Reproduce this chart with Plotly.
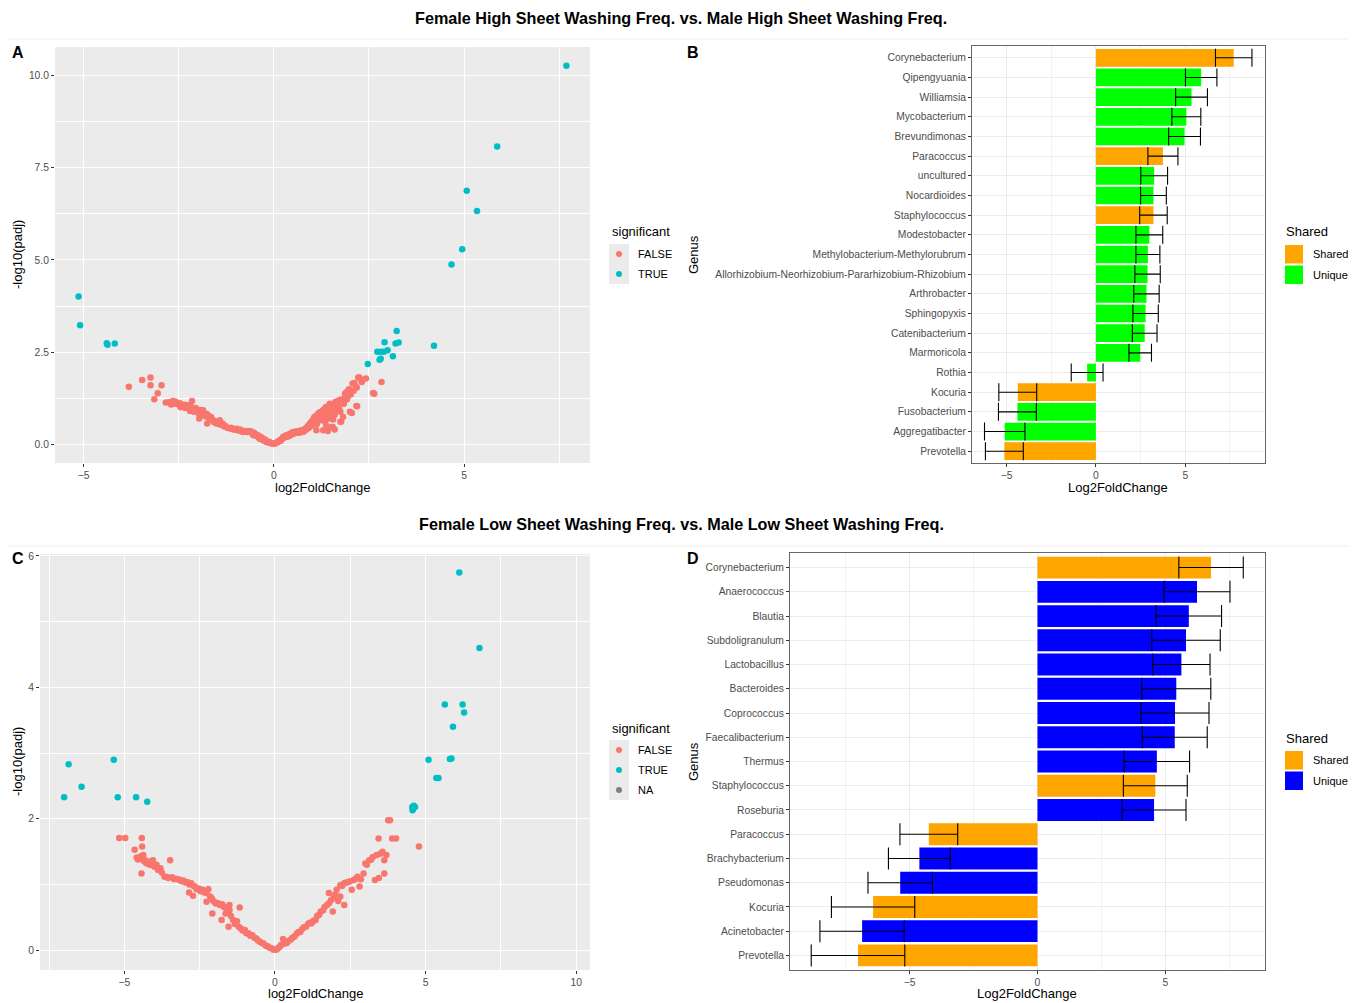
import plotly.graph_objects as go

W, H = 1357, 1003
OFF = 8  # browser body margin
FW, FH = W - OFF, H - OFF
FONT = "Liberation Sans, Arial, sans-serif"
RED, TEAL, GREYNA = "#F8766D", "#00BFC4", "#7F7F7F"
ORANGE, GREEN, BLUE = "#FFA500", "#00FF00", "#0000FF"

# ---------------- Panel A data (volcano, high washing freq) ----------------
a_false_x = [-3.81, -3.46, -3.24, -3.24, -2.95, -3.05, -3.14, -2.84, -2.75, -2.65, -2.60, -2.55, -2.50,
             -2.47, -2.42, -2.39, -2.35, -2.30, -2.25, -2.21, -2.18, -2.15, -2.12, -2.08, -2.05, -2.00,
             -1.95, -1.92, -1.88, -1.86, -1.82, -1.77, -1.75, -1.72, -1.68, -1.65, -1.62, -1.96, -1.75,
             -1.60, -1.55, -1.51, -1.48, -1.45, -1.42, -1.38, -1.33, -1.30, -1.25, -1.20, -1.16, -1.10,
             -1.05, -1.00, -0.95, -0.90, -0.85, -0.81, -0.75, -0.70, -0.63, -0.58, -0.54, -0.50, -0.45,
             -0.40, -0.37, -0.33, -0.28, -0.24, -0.19, -0.15, -0.10, -0.05, -0.02,
             -2.70, -2.58, -2.45, -2.33, -2.20, -2.10, -1.98, -1.90, -1.80, -1.70, -1.58, -1.45, -1.35,
             -1.28, -1.12, -0.98, -0.88, -0.78, -0.68, -0.60, -0.52, -0.48, -0.42, -0.35, -0.30, -0.22,
             -0.12,
             0.02, 0.06, 0.10, 0.16, 0.20, 0.25, 0.30, 0.36, 0.40, 0.45, 0.51, 0.56, 0.60, 0.65, 0.70,
             0.76, 0.80, 0.85, 0.90, 0.95, 0.97, 1.00, 1.03, 1.05, 1.07, 1.10, 1.12, 1.15, 1.17, 1.20,
             1.22, 1.25, 1.27, 1.30, 1.30, 1.33, 1.35, 1.37, 1.39, 1.42, 1.42, 1.45, 1.47, 1.47, 1.52,
             1.52, 1.55, 1.56, 1.58, 1.61, 1.62, 1.65, 1.68, 1.70, 1.74, 1.75, 1.75, 1.77, 1.77, 1.82,
             1.87, 1.87, 1.92, 1.91, 1.97, 1.98, 2.00, 2.05, 2.07, 2.12, 2.16, 2.17, 2.18, 2.19, 2.22,
             2.25, 2.31, 2.32, 2.42, 2.61, 2.64, 2.83,
             0.05, 0.12, 0.18, 0.23, 0.28, 0.33, 0.42, 0.48, 0.53, 0.62, 0.68, 0.72, 0.78, 0.83, 0.88,
             0.93, 0.92, 1.00, 1.05, 1.10, 1.13, 1.15, 1.18, 1.20, 1.25, 1.28, 1.32, 1.35, 1.36, 1.38,
             1.40, 1.44, 1.45, 1.48, 1.50, 1.54, 1.58, 1.60, 1.60, 1.63, 1.66, 1.70, 1.72, 1.80, 1.84,
             1.90, 1.95, 2.02, 2.10]
a_false_y = [1.56, 1.74, 1.81, 1.60, 1.60, 1.38, 1.22, 1.13, 1.14, 1.17, 1.10, 1.12, 1.08,
             1.11, 1.05, 1.03, 1.07, 1.00, 1.06, 0.97, 1.02, 1.17, 0.95, 0.92, 0.98, 0.90,
             0.88, 0.93, 0.84, 0.92, 0.80, 0.83, 0.75, 0.78, 0.72, 0.74, 0.68, 0.70, 0.56,
             0.65, 0.62, 0.56, 0.58, 0.55, 0.65, 0.52, 0.52, 0.48, 0.46, 0.44, 0.43, 0.41,
             0.40, 0.39, 0.38, 0.37, 0.35, 0.33, 0.34, 0.33, 0.33, 0.31, 0.24, 0.29, 0.22,
             0.18, 0.15, 0.14, 0.11, 0.09, 0.06, 0.05, 0.03, 0.02, 0.01,
             1.08, 1.15, 1.00, 0.98, 0.90, 0.88, 0.85, 0.80, 0.76, 0.70, 0.60, 0.60, 0.56,
             0.50, 0.45, 0.42, 0.40, 0.36, 0.36, 0.35, 0.31, 0.26, 0.24, 0.20, 0.17, 0.12,
             0.07,
             0.01, 0.03, 0.05, 0.11, 0.14, 0.20, 0.22, 0.20, 0.27, 0.30, 0.33, 0.33, 0.35, 0.34, 0.36,
             0.38, 0.40, 0.44, 0.50, 0.56, 0.56, 0.62, 0.65, 0.70, 0.74, 0.76, 0.38, 0.80, 0.83, 0.86,
             0.70, 0.88, 0.65, 0.92, 0.38, 0.95, 0.78, 1.01, 0.97, 0.36, 1.00, 0.85, 1.06, 1.10, 0.47,
             1.08, 0.47, 0.67, 1.05, 1.11, 1.15, 1.12, 0.95, 1.18, 1.20, 0.61, 0.88, 1.21, 0.61, 0.74,
             1.24, 1.37, 1.21, 1.42, 1.48, 1.49, 0.88, 0.85, 1.65, 1.66, 1.56, 1.04, 1.54, 1.03, 1.81,
             1.81, 1.69, 1.72, 1.78, 1.39, 1.37, 1.69,
             0.04, 0.08, 0.09, 0.15, 0.18, 0.24, 0.23, 0.27, 0.29, 0.31, 0.31, 0.38, 0.34, 0.38, 0.42,
             0.47, 0.45, 0.50, 0.55, 0.70, 0.55, 0.62, 0.68, 0.75, 0.78, 0.85, 0.72, 0.60, 0.90, 0.50,
             0.82, 0.95, 0.70, 0.75, 0.98, 0.88, 0.95, 0.80, 0.40, 1.02, 0.90, 1.05, 0.95, 1.15, 1.10,
             1.25, 1.30, 1.35, 1.45]
a_true_x = [7.69, 5.87, 5.07, 5.34, 4.95, 4.67, -5.13, -5.09, -4.39, -4.37, -4.18, 3.23, 2.91, 3.20,
            3.28, 2.72, 2.81, 2.89, 2.99, 2.81, 2.78, 3.13, 2.47, 4.21]
a_true_y = [10.27, 8.08, 6.88, 6.33, 5.29, 4.88, 4.01, 3.23, 2.74, 2.70, 2.73, 3.07, 2.77, 2.73,
            2.76, 2.51, 2.51, 2.51, 2.55, 2.32, 2.29, 2.39, 2.18, 2.67]

# ---------------- Panel B data (bars, high washing freq) ----------------
b_genus = ["Corynebacterium", "Qipengyuania", "Williamsia", "Mycobacterium", "Brevundimonas",
           "Paracoccus", "uncultured", "Nocardioides", "Staphylococcus", "Modestobacter",
           "Methylobacterium-Methylorubrum", "Allorhizobium-Neorhizobium-Pararhizobium-Rhizobium",
           "Arthrobacter", "Sphingopyxis", "Catenibacterium", "Marmoricola", "Rothia", "Kocuria",
           "Fusobacterium", "Aggregatibacter", "Prevotella"]
b_lfc = [7.71, 5.89, 5.35, 5.06, 4.96, 3.75, 3.26, 3.22, 3.22, 2.99, 2.91, 2.89, 2.83, 2.78, 2.73,
         2.48, -0.49, -4.37, -4.39, -5.10, -5.12]
b_se = [1.02, 0.88, 0.89, 0.81, 0.89, 0.84, 0.75, 0.72, 0.77, 0.75, 0.67, 0.71, 0.71, 0.71, 0.69,
        0.63, 0.89, 1.06, 1.06, 1.13, 1.06]
b_shared = ["Shared", "Unique", "Unique", "Unique", "Unique", "Shared", "Unique", "Unique", "Shared",
            "Unique", "Unique", "Unique", "Unique", "Unique", "Unique", "Unique", "Unique", "Shared",
            "Unique", "Unique", "Shared"]

# ---------------- Panel C data (volcano, low washing freq) ----------------
c_false_x = [-5.17, -4.97, -4.42, -4.41, -4.66, -4.43, -3.48,
             -4.59, -4.55, -4.50, -4.45, -4.37, -4.35, -4.31, -4.28, -4.24, -4.18, -4.15, -4.12, -4.05,
             -4.00, -3.93, -3.88, -3.80, -3.75, -3.67, -3.60, -3.55, -3.42, -3.35, -3.29, -3.22, -3.16,
             -3.10, -3.04, -2.97, -2.91, -2.85, -2.84, -2.78, -2.72, -2.70, -2.66, -2.60, -2.53, -2.47,
             -2.40, -2.34, -2.27, -2.27, -2.21, -2.15, -2.10, -2.08, -2.08, -2.02, -1.96, -1.90, -1.83,
             -1.77, -1.75, -1.70, -1.64, -1.64, -1.58, -1.54, -1.51, -1.51, -1.46, -1.39, -1.33, -1.26,
             -1.20, -1.17, -1.13, -1.07, -1.00, -0.95, -0.88, -0.82, -0.75, -0.68, -0.62, -0.56, -0.50,
             -0.43, -0.37, -0.30, -0.24, -0.18, -0.11, -0.05,
             0.05, 0.10, 0.15, 0.20, 0.27, 0.30, 0.39, 0.45, 0.52, 0.58, 0.65, 0.72, 0.78, 0.84, 0.90,
             0.96, 1.03, 1.10, 1.15, 1.22, 1.28, 1.35, 1.40, 1.47, 1.52, 1.60, 1.65, 1.73, 1.79, 1.80,
             1.86, 1.92, 1.95, 2.00, 2.05, 2.10, 2.17, 2.17, 2.23, 2.30, 2.30, 2.37, 2.43, 2.50, 2.55,
             2.62, 2.68, 2.74, 2.81, 2.85, 2.94, 3.00, 3.05, 3.13, 3.20, 3.25, 3.32, 3.38, 3.44, 3.45,
             3.50, 3.57, 3.63, 3.63, 3.70, 3.76, 3.82, 3.89, 4.02, 4.78]
c_false_y = [1.71, 1.71, 1.71, 1.58, 1.53, 1.17, 1.37,
             1.41, 1.38, 1.39, 1.43, 1.45, 1.36, 1.37, 1.33, 1.32, 1.35, 1.30, 1.30, 1.37,
             1.27, 1.30, 1.22, 1.25, 1.18, 1.12, 1.12, 1.10, 1.11, 1.08, 1.09, 1.08, 1.07,
             1.05, 1.06, 1.03, 1.04, 0.88, 1.00, 1.02, 0.83, 0.98, 0.97, 0.93, 0.94, 0.90,
             0.92, 0.88, 0.87, 0.74, 0.93, 0.82, 0.79, 0.77, 0.56, 0.74, 0.71, 0.72, 0.69,
             0.46, 0.70, 0.66, 0.66, 0.56, 0.62, 0.36, 0.69, 0.61, 0.52, 0.46, 0.40, 0.44,
             0.36, 0.65, 0.33, 0.30, 0.31, 0.26, 0.26, 0.22, 0.23, 0.19, 0.18, 0.15, 0.13,
             0.11, 0.10, 0.07, 0.06, 0.04, 0.03, 0.01,
             0.01, 0.03, 0.05, 0.08, 0.17, 0.10, 0.11, 0.14, 0.16, 0.19, 0.21, 0.25, 0.28, 0.28, 0.32,
             0.35, 0.36, 0.40, 0.42, 0.41, 0.45, 0.46, 0.52, 0.54, 0.59, 0.61, 0.66, 0.69, 0.87, 0.72,
             0.76, 0.59, 0.80, 0.85, 0.92, 0.75, 0.99, 0.82, 0.98, 1.02, 0.69, 1.03, 1.04, 1.05, 0.92,
             1.07, 1.09, 1.12, 0.97, 1.08, 1.17, 1.32, 1.30, 1.37, 1.38, 1.42, 1.07, 1.45, 1.70, 1.10,
             1.47, 1.50, 1.37, 1.17, 1.45, 1.98, 1.98, 1.70, 1.70, 1.58]
c_true_x = [6.12, 6.79, 5.64, 6.23, 6.28, 5.91, 5.10, 5.81, 5.86, 5.36, 5.43, 4.56, 4.61, 4.65, 4.57,
            4.59, -6.85, -7.00, -6.42, -5.35, -5.22, -4.61, -4.24]
c_true_y = [5.75, 4.60, 3.74, 3.74, 3.62, 3.40, 2.90, 2.91, 2.92, 2.62, 2.62, 2.18, 2.20, 2.18, 2.13,
            2.16, 2.83, 2.33, 2.49, 2.90, 2.33, 2.33, 2.26]

# ---------------- Panel D data (bars, low washing freq) ----------------
d_genus = ["Corynebacterium", "Anaerococcus", "Blautia", "Subdoligranulum", "Lactobacillus",
           "Bacteroides", "Coprococcus", "Faecalibacterium", "Thermus", "Staphylococcus", "Roseburia",
           "Paracoccus", "Brachybacterium", "Pseudomonas", "Kocuria", "Acinetobacter", "Prevotella"]
d_lfc = [6.79, 6.24, 5.92, 5.81, 5.63, 5.43, 5.38, 5.37, 4.67, 4.61, 4.56, -4.25, -4.62, -5.37,
         -6.43, -6.86, -7.02]
d_se = [1.26, 1.29, 1.28, 1.34, 1.12, 1.35, 1.33, 1.27, 1.28, 1.25, 1.25, 1.13, 1.21, 1.26, 1.63,
        1.65, 1.83]
d_shared = ["Shared", "Unique", "Unique", "Unique", "Unique", "Unique", "Unique", "Unique", "Unique",
            "Shared", "Unique", "Shared", "Unique", "Unique", "Shared", "Unique", "Shared"]

titles = ["Female High Sheet Washing Freq. vs. Male High Sheet Washing Freq.",
          "Female Low Sheet Washing Freq. vs. Male Low Sheet Washing Freq."]


def px(x):
    return (x - OFF) / FW


def py(y):
    return 1 - (y - OFF) / FH


fig = go.Figure()

marker_kw = dict(size=6.5, line=dict(width=0))

# Panel A
fig.add_trace(go.Scatter(x=a_false_x, y=a_false_y, mode="markers", marker=dict(color=RED, **marker_kw),
                         xaxis="x", yaxis="y", showlegend=False, name="FALSE"))
fig.add_trace(go.Scatter(x=a_true_x, y=a_true_y, mode="markers", marker=dict(color=TEAL, **marker_kw),
                         xaxis="x", yaxis="y", showlegend=False, name="TRUE"))
# Panel C
fig.add_trace(go.Scatter(x=c_false_x, y=c_false_y, mode="markers", marker=dict(color=RED, **marker_kw),
                         xaxis="x3", yaxis="y3", showlegend=False, name="FALSE"))
fig.add_trace(go.Scatter(x=c_true_x, y=c_true_y, mode="markers", marker=dict(color=TEAL, **marker_kw),
                         xaxis="x3", yaxis="y3", showlegend=False, name="TRUE"))
fig.add_trace(go.Scatter(x=[None], y=[None], mode="markers", marker=dict(color=GREYNA, **marker_kw),
                         xaxis="x3", yaxis="y3", showlegend=False, name="NA"))


def add_bars(genus, lfc, se, shared, ucolor, xa, ya, capw):
    for grp, col in (("Shared", ORANGE), ("Unique", ucolor)):
        idx = [i for i, s in enumerate(shared) if s == grp]
        fig.add_trace(go.Bar(
            y=[genus[i] for i in idx], x=[lfc[i] for i in idx], orientation="h",
            marker=dict(color=col, line=dict(width=0)), width=0.9, name=grp,
            error_x=dict(type="data", array=[se[i] for i in idx], symmetric=True,
                         color="black", thickness=1.1, width=capw),
            xaxis=xa, yaxis=ya, showlegend=False))


add_bars(b_genus, b_lfc, b_se, b_shared, GREEN, "x2", "y2", 9)
add_bars(d_genus, d_lfc, d_se, d_shared, BLUE, "x4", "y4", 11)

tickfont = dict(family=FONT, size=10.3, color="#4D4D4D")


def vol_axis(dom, rng, dtick, minor, fmt=None):
    d = dict(domain=dom, range=rng, tickmode="linear", tick0=0, dtick=dtick, showgrid=True,
             gridcolor="white", gridwidth=1.1, zeroline=False, showline=False, ticks="outside",
             ticklen=3, tickcolor="#333333", tickwidth=1, tickfont=tickfont,
             minor=dict(showgrid=True, gridcolor="white", gridwidth=0.5, tick0=0, dtick=minor, ticks=""),
             automargin=False, fixedrange=True)
    if fmt:
        d["tickformat"] = fmt
    return d


def bar_xaxis(dom, rng):
    return dict(domain=dom, range=rng, tickmode="linear", tick0=0, dtick=5, showgrid=True,
                gridcolor="#EBEBEB", gridwidth=1.1, zeroline=False, showline=True, mirror=True,
                linecolor="#666666", linewidth=1, ticks="outside", ticklen=3, tickcolor="#333333",
                tickfont=tickfont,
                minor=dict(showgrid=True, gridcolor="#F2F2F2", gridwidth=0.5, tick0=0, dtick=2.5, ticks=""),
                automargin=False, fixedrange=True)


def bar_yaxis(dom, genus, anchor):
    return dict(domain=dom, type="category", categoryorder="array", categoryarray=genus[::-1],
                range=[-0.6, len(genus) - 0.4], showgrid=True, gridcolor="#EBEBEB", gridwidth=1.1,
                showline=True, mirror=True, linecolor="#666666", linewidth=1, ticks="outside",
                ticklen=3, tickcolor="#333333", tickfont=tickfont, automargin=False, fixedrange=True,
                anchor=anchor)


fig.update_layout(
    width=FW, height=FH, margin=dict(l=0, r=0, t=0, b=0), paper_bgcolor="white", plot_bgcolor="white",
    font=dict(family=FONT), barmode="overlay", showlegend=False,
    xaxis=vol_axis([px(55), px(590)], [-5.75, 8.31], 5, 2.5),
    yaxis=vol_axis([py(463), py(47)], [-0.51, 10.78], 2.5, 1.25, ".1f"),
    xaxis2=bar_xaxis([px(972), px(1265)], [-6.93, 9.46]),
    yaxis2=bar_yaxis([py(463), py(46)], b_genus, "x2"),
    xaxis3=vol_axis([px(40), px(590)], [-7.80, 10.46], 5, 2.5),
    yaxis3=vol_axis([py(970), py(554)], [-0.30, 6.03], 2, 1),
    xaxis4=bar_xaxis([px(790), px(1265)], [-9.68, 8.90]),
    yaxis4=bar_yaxis([py(970), py(553)], d_genus, "x4"),
)
fig.layout.xaxis.anchor = "y"
fig.layout.yaxis.anchor = "x"
fig.layout.xaxis2.anchor = "y2"
fig.layout.xaxis3.anchor = "y3"
fig.layout.yaxis3.anchor = "x3"
fig.layout.xaxis4.anchor = "y4"

shapes = []
# gray panel backgrounds for volcano plots
for xr, yr in (("x", "y"), ("x3", "y3")):
    shapes.append(dict(type="rect", xref=xr + " domain", yref=yr + " domain", x0=0, x1=1, y0=0, y1=1,
                       fillcolor="#EBEBEB", line=dict(width=0), layer="below"))
# separator lines under titles
for yy in (39, 546):
    shapes.append(dict(type="line", xref="paper", yref="paper", x0=0, x1=1, y0=py(yy), y1=py(yy),
                       line=dict(color="#EEEEEE", width=1)))

ann = []


def text(x, y, s, size, color="black", bold=False, angle=0, xanchor="center"):
    ann.append(dict(x=px(x), y=py(y), xref="paper", yref="paper", text=("<b>%s</b>" % s) if bold else s,
                    showarrow=False, textangle=angle, xanchor=xanchor, yanchor="middle",
                    font=dict(family=FONT, size=size, color=color)))


text(681, 18, titles[0], 16.2, bold=True)
text(681, 524, titles[1], 16.2, bold=True)
for lab, x, y in (("A", 18, 52), ("B", 693, 52), ("C", 18, 558), ("D", 693, 558)):
    text(x, y, lab, 16, bold=True)
text(322, 487, "log2FoldChange", 13)
text(1118, 487, "Log2FoldChange", 13)
text(315, 993, "log2FoldChange", 13)
text(1027, 993, "Log2FoldChange", 13)
text(17, 255, "-log10(padj)", 13, angle=-90)
text(17, 762, "-log10(padj)", 13, angle=-90)
text(693, 255, "Genus", 13, angle=-90)
text(693, 762, "Genus", 13, angle=-90)


# legends (drawn manually, ggplot style)
def vol_legend(top, items):
    text(610, top - 22, "significant", 13, xanchor="left")
    for i, (lab, col) in enumerate(items):
        y0 = top - 10 + 20 * i
        shapes.append(dict(type="rect", xref="paper", yref="paper", x0=px(609), x1=px(629),
                           y0=py(y0 + 20), y1=py(y0), fillcolor="#EBEBEB", line=dict(width=0)))
        shapes.append(dict(type="circle", xref="paper", yref="paper", x0=px(616), x1=px(622),
                           y0=py(y0 + 13), y1=py(y0 + 7), fillcolor=col, line=dict(width=0)))
        text(636, y0 + 10, lab, 11, xanchor="left")


def bar_legend(top, items):
    text(1284, top - 22, "Shared", 13, xanchor="left")
    for i, (lab, col) in enumerate(items):
        y0 = top - 10 + 20.5 * i
        shapes.append(dict(type="rect", xref="paper", yref="paper", x0=px(1285), x1=px(1303),
                           y0=py(y0 + 19.5), y1=py(y0 + 1), fillcolor=col, line=dict(width=0)))
        text(1311, y0 + 10, lab, 11, xanchor="left")


vol_legend(254, [("FALSE", RED), ("TRUE", TEAL)])
vol_legend(750, [("FALSE", RED), ("TRUE", TEAL), ("NA", GREYNA)])
bar_legend(254, [("Shared", ORANGE), ("Unique", GREEN)])
bar_legend(760, [("Shared", ORANGE), ("Unique", BLUE)])

fig.update_layout(shapes=shapes, annotations=ann)
fig.write_html("out.html")
